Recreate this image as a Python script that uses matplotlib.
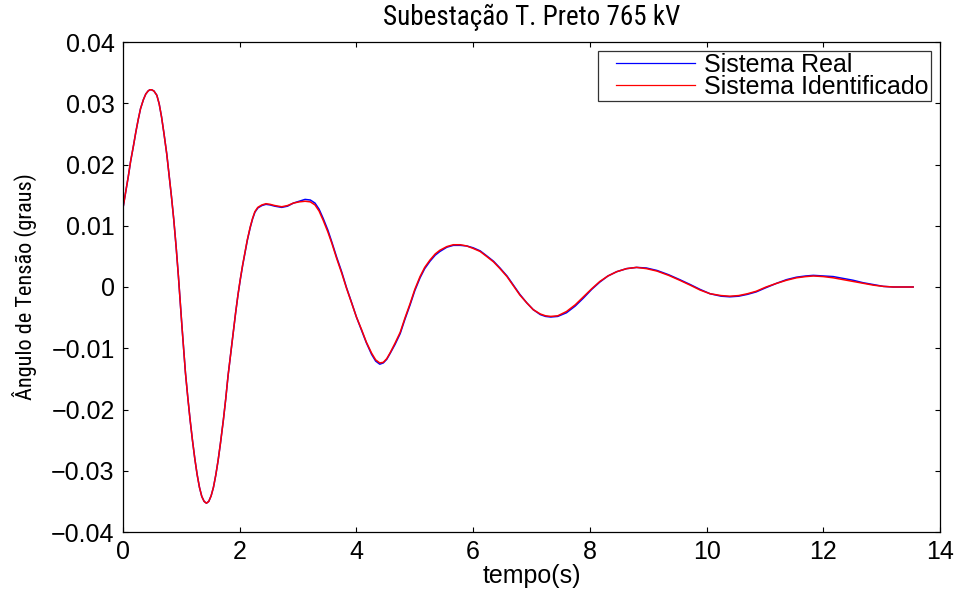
import matplotlib
matplotlib.use("Agg")
import matplotlib.pyplot as plt
import numpy as np
from matplotlib import font_manager

# ---- data ----
t_values = [0.00, 0.05, 0.09, 0.13, 0.18, 0.22, 0.26, 0.30, 0.35, 0.39,
            0.43, 0.46, 0.49, 0.53, 0.58, 0.62, 0.66, 0.70, 0.75, 0.79,
            0.83, 0.87, 0.91, 0.95, 0.98, 1.01, 1.04, 1.07, 1.11, 1.15,
            1.19, 1.23, 1.27, 1.31, 1.35, 1.39, 1.43, 1.47, 1.51, 1.55,
            1.59, 1.63, 1.67, 1.72, 1.76, 1.80, 1.85, 1.89, 1.93, 1.97,
            2.01, 2.05, 2.09, 2.13, 2.18, 2.22, 2.26, 2.31, 2.38, 2.45,
            2.52, 2.60, 2.72, 2.82, 2.92, 3.02, 3.12, 3.21, 3.29, 3.36,
            3.43, 3.51, 3.58, 3.66, 3.75, 3.83, 3.92, 4.00, 4.09, 4.17,
            4.26, 4.33, 4.40, 4.46, 4.52, 4.58, 4.66, 4.75, 4.83, 4.92,
            5.00, 5.09, 5.17, 5.26, 5.35, 5.43, 5.55, 5.66, 5.78, 5.89,
            6.00, 6.12, 6.23, 6.35, 6.46, 6.58, 6.69, 6.80, 6.92, 7.03,
            7.15, 7.24, 7.33, 7.45, 7.60, 7.75, 7.89, 8.03, 8.17, 8.31,
            8.46, 8.63, 8.80, 8.97, 9.15, 9.35, 9.54, 9.72, 9.89, 10.06,
            10.25, 10.40, 10.55, 10.70, 10.85, 11.02, 11.20, 11.37, 11.54, 11.70,
            11.83, 12.00, 12.17, 12.34, 12.51, 12.68, 12.86, 13.03, 13.20, 13.37,
            13.54]

sistema_identificado = [
    0.0129, 0.0157, 0.0180, 0.0205, 0.0231, 0.0253, 0.0273, 0.0291, 0.0306, 0.0315,
    0.0320, 0.0322, 0.0322, 0.0320, 0.0313, 0.0299, 0.0278, 0.0252, 0.0217, 0.0183,
    0.0148, 0.0110, 0.0066, 0.0017, -0.0024, -0.0064, -0.0103, -0.0140, -0.0180, -0.0217,
    -0.0250, -0.0280, -0.0306, -0.0327, -0.0342, -0.0350, -0.0353, -0.0350, -0.0341, -0.0327,
    -0.0307, -0.0283, -0.0255, -0.0217, -0.0183, -0.0145, -0.0105, -0.0072, -0.0042, -0.0013,
    0.0013, 0.0036, 0.0057, 0.0077, 0.0098, 0.0112, 0.0123, 0.0130, 0.0134, 0.0136,
    0.0135, 0.0133, 0.0131, 0.0133, 0.0137, 0.0139, 0.0140, 0.0139, 0.0134, 0.0124,
    0.0109, 0.0090, 0.0071, 0.0047, 0.0022, -0.0002, -0.0027, -0.0049, -0.0070, -0.0090,
    -0.0108, -0.0119, -0.0124, -0.0123, -0.0117, -0.0107, -0.0092, -0.0074, -0.0051, -0.0027,
    -0.0004, 0.0017, 0.0032, 0.0044, 0.0054, 0.0060, 0.0066, 0.0069, 0.0069, 0.0067,
    0.0063, 0.0058, 0.0050, 0.0041, 0.0030, 0.0017, 0.0002, -0.0013, -0.0026, -0.0037,
    -0.0044, -0.0047, -0.0048, -0.0047, -0.0040, -0.0029, -0.0016, -0.0003, 0.0009, 0.0018,
    0.0025, 0.0030, 0.0032, 0.0030, 0.0026, 0.0019, 0.0011, 0.0003, -0.0005, -0.0011,
    -0.0014, -0.0015, -0.0014, -0.0011, -0.0007, 0.0000, 0.0006, 0.0011, 0.0015, 0.0017,
    0.0018, 0.0017, 0.0015, 0.0012, 0.0009, 0.0006, 0.0003, 0.0001, 0.0000, 0.0000,
    0.0000]

sistema_real = [
    0.0129, 0.0157, 0.0180, 0.0205, 0.0231, 0.0253, 0.0273, 0.0291, 0.0306, 0.0315,
    0.0320, 0.0322, 0.0322, 0.0320, 0.0313, 0.0299, 0.0278, 0.0252, 0.0217, 0.0183,
    0.0148, 0.0110, 0.0066, 0.0017, -0.0024, -0.0064, -0.0103, -0.0140, -0.0180, -0.0217,
    -0.0250, -0.0280, -0.0306, -0.0327, -0.0342, -0.0350, -0.0353, -0.0350, -0.0341, -0.0327,
    -0.0307, -0.0283, -0.0255, -0.0217, -0.0183, -0.0145, -0.0105, -0.0072, -0.0042, -0.0013,
    0.0012, 0.0035, 0.0056, 0.0076, 0.0097, 0.0111, 0.0122, 0.0129, 0.0133, 0.0135,
    0.0134, 0.0132, 0.0130, 0.0132, 0.0137, 0.0140, 0.0143, 0.0142, 0.0137, 0.0127,
    0.0112, 0.0093, 0.0073, 0.0049, 0.0024, -0.0001, -0.0026, -0.0049, -0.0071, -0.0091,
    -0.0110, -0.0121, -0.0126, -0.0124, -0.0118, -0.0108, -0.0094, -0.0076, -0.0053, -0.0029,
    -0.0006, 0.0015, 0.0030, 0.0042, 0.0052, 0.0058, 0.0065, 0.0068, 0.0068, 0.0067,
    0.0064, 0.0059, 0.0051, 0.0042, 0.0031, 0.0018, 0.0003, -0.0012, -0.0026, -0.0037,
    -0.0045, -0.0048, -0.0049, -0.0048, -0.0042, -0.0031, -0.0018, -0.0004, 0.0008, 0.0018,
    0.0025, 0.0030, 0.0032, 0.0031, 0.0027, 0.0020, 0.0012, 0.0004, -0.0004, -0.0011,
    -0.0015, -0.0016, -0.0015, -0.0012, -0.0008, -0.0001, 0.0006, 0.0012, 0.0016, 0.0018,
    0.0019, 0.0018, 0.0017, 0.0014, 0.0011, 0.0007, 0.0004, 0.0001, 0.0000, 0.0000,
    0.0000]

series_names = ["Sistema Real", "Sistema Identificado"]
x_ticks = [0, 2, 4, 6, 8, 10, 12, 14]
x_tick_labels = ["0", "2", "4", "6", "8", "10", "12", "14"]
y_ticks = [-0.04, -0.03, -0.02, -0.01, 0.0, 0.01, 0.02, 0.03, 0.04]
y_tick_labels = ["\u22120.04", "\u22120.03", "\u22120.02", "\u22120.01", "0",
                 "0.01", "0.02", "0.03", "0.04"]
title_text = "Subestação T. Preto 765 kV"
x_label = "tempo(s)"
y_label = "Ângulo de Tensão (graus)"

# ---- fonts ----
names = {f.name for f in font_manager.fontManager.ttflist}
base_font = "Liberation Sans" if "Liberation Sans" in names else "DejaVu Sans"
narrow_font = None
for cand in ["Liberation Sans Narrow", "Arial Narrow", "Roboto Condensed",
             "Open Sans Condensed", "DejaVu Sans Condensed"]:
    if cand in names:
        narrow_font = cand
        break
plt.rcParams["font.family"] = [base_font, "DejaVu Sans"]

if narrow_font:
    title_kw = dict(family=[narrow_font, "DejaVu Sans"], fontsize=19.5)
    ylab_kw = dict(family=[narrow_font, "DejaVu Sans"], fontsize=16)
else:
    title_kw = dict(fontsize=17)
    ylab_kw = dict(fontsize=13.5)

fig = plt.figure(figsize=(9.62, 5.89), dpi=100)
ax = fig.add_axes([123 / 962, 1 - 532 / 589, (940 - 123) / 962, (532 - 42) / 589])

ax.plot(t_values, sistema_real, color="#0000ff", lw=1.1, label=series_names[0])
ax.plot(t_values, sistema_identificado, color="#ff0000", lw=1.1, label=series_names[1])

ax.set_xlim(0, 14)
ax.set_ylim(-0.04, 0.04)
ax.set_xticks(x_ticks)
ax.set_xticklabels(x_tick_labels)
ax.set_yticks(y_ticks)
ax.set_yticklabels(y_tick_labels)
ax.tick_params(direction="in", length=3.8, width=0.8, top=True, right=True,
               labelsize=18, pad=6, colors="black")
for s in ax.spines.values():
    s.set_linewidth(0.9)

ax.set_title(title_text, pad=12.5, **title_kw)
ax.set_xlabel(x_label, fontsize=18, labelpad=0)
ax.set_ylabel(y_label, labelpad=10, **ylab_kw)

leg = ax.legend(loc="upper right", fontsize=18, frameon=True, fancybox=False,
                edgecolor="black", handlelength=3.8, handletextpad=0.36,
                borderpad=0.08, labelspacing=-0.08, borderaxespad=0.36)
leg.get_frame().set_linewidth(0.9)
for line in leg.get_lines():
    line.set_linewidth(0.9)
    xd = np.asarray(line.get_xdata(), dtype=float)
    span = xd[-1] - xd[0]
    line.set_xdata(np.linspace(xd[0] + span * 16.0 / 95.0, xd[-1], len(xd)))

fig.savefig("out.png", dpi=100)
